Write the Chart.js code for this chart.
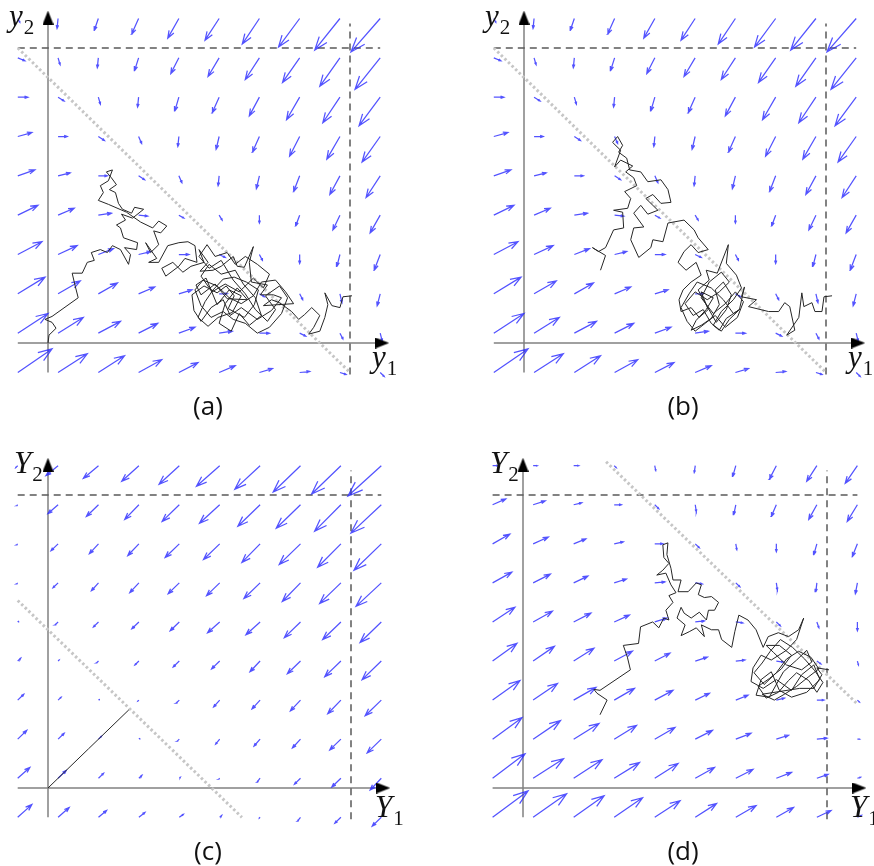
<!DOCTYPE html>
<html>
<head>
<meta charset="utf-8">
<script src="https://cdn.jsdelivr.net/npm/chart.js@4.4.0/dist/chart.umd.min.js"></script>
<style>
  body { margin: 0; background: #fff; }
  #wrap { position: relative; width: 874px; height: 866px; overflow: hidden; }
  canvas { position: absolute; }
  .axl { position: absolute; font: 31px/30px 'Liberation Serif', serif; color: #111; white-space: nowrap; }
  .axl i { font-style: italic; }
  .axl .sub { font-size: 21px; position: relative; top: 8px; margin-left: 1px; }
  .pl { position: absolute; font: 26px/26px 'Open Sans', sans-serif; color: #111; transform: translate(-50%, -50%); }
</style>
</head>
<body>
<div id="wrap">
  <canvas id="pa" width="437" height="433" style="left:0;top:0"></canvas>
  <canvas id="pb" width="437" height="433" style="left:437px;top:0"></canvas>
  <canvas id="pc" width="437" height="433" style="left:0;top:433px"></canvas>
  <canvas id="pd" width="437" height="433" style="left:437px;top:433px"></canvas>

  <div class="axl" style="left:9px;top:1px"><i>y</i><span class="sub">2</span></div>
  <div class="axl" style="left:372px;top:342px"><i>y</i><span class="sub">1</span></div>
  <div class="axl" style="left:485px;top:1px"><i>y</i><span class="sub">2</span></div>
  <div class="axl" style="left:848px;top:342px"><i>y</i><span class="sub">1</span></div>
  <div class="axl" style="left:14px;top:448px"><i>Y</i><span class="sub">2</span></div>
  <div class="axl" style="left:375px;top:792px"><i>Y</i><span class="sub">1</span></div>
  <div class="axl" style="left:490px;top:448px"><i>Y</i><span class="sub">2</span></div>
  <div class="axl" style="left:850px;top:792px"><i>Y</i><span class="sub">1</span></div>

  <div class="pl" style="left:208px;top:405px">(a)</div>
  <div class="pl" style="left:683px;top:405px">(b)</div>
  <div class="pl" style="left:208px;top:850px">(c)</div>
  <div class="pl" style="left:683px;top:850px">(d)</div>
</div>
<script>
// carrying capacity (dashed lines) and grid of the direction field
const K = 300;
const gridX = [-30, 10, 50, 90, 130, 170, 210, 250, 290, 330];
const gridY = [330, 290, 250, 210, 170, 130, 90, 50, 10, -30];

// direction field of (a) and (b): rows top -> bottom, cols left -> right
const fieldA_u = [
  [2, -1, -4, -7, -11, -14, -17, -21, -25, -29],
  [7, 2, -1, -4, -8, -11, -14, -17, -20, -25],
  [10, 6, 2, -1, -4, -7, -10, -13, -17, -21],
  [14, 9, 6, 3, -1, -3, -7, -10, -13, -18],
  [17, 12, 9, 6, 3, -1, -3, -6, -10, -14],
  [20, 16, 13, 9, 5, 3, 0, -4, -7, -10],
  [24, 19, 15, 12, 10, 6, 3, 0, -3, -6],
  [27, 22, 19, 16, 13, 8, 5, 3, 2, -3],
  [30, 25, 22, 19, 16, 13, 10, 6, 3, 2],
  [34, 29, 26, 23, 19, 16, 13, 10, 6, 4]
];
const fieldA_v = [
  [-4, -10, -12, -16, -20, -22, -26, -29, -32, -34],
  [-3, -7, -10, -13, -16, -19, -22, -25, -29, -32],
  [0, -4, -7, -10, -14, -16, -19, -23, -26, -29],
  [4, 0, -4, -7, -10, -13, -16, -20, -23, -26],
  [6, 3, 0, -4, -7, -10, -13, -16, -19, -22],
  [10, 7, 2, -1, -3, -5, -8, -11, -15, -18],
  [13, 9, 6, 3, 0, -3, -6, -9, -12, -16],
  [17, 13, 11, 7, 4, 0, -3, -6, -9, -12],
  [20, 16, 12, 10, 6, 2, 0, -3, -6, -8],
  [24, 19, 17, 13, 10, 7, 4, 1, -2, -4]
];

// direction field of (c)
const fieldC_u = [
  [-2, -12, -15, -17, -20, -23, -25, -27, -29, -33],
  [-1, -10, -12, -14, -17, -20, -22, -24, -26, -30],
  [-1, -7, -9, -11, -14, -16, -18, -21, -23, -27],
  [-1, -5, -7, -9, -11, -13, -16, -18, -21, -25],
  [1, -3, -5, -7, -9, -12, -14, -16, -18, -21],
  [3, 1, -2, -4, -6, -8, -10, -13, -16, -19],
  [6, 3, 1, -1, -3, -6, -8, -10, -13, -16],
  [9, 6, 3, 1, -2, -4, -6, -8, -11, -14],
  [12, 8, 5, 3, 1, -1, -3, -6, -9, -11],
  [14, 11, 8, 6, 4, 2, -1, -3, -6, -9]
];
const fieldC_v = [
  [-2, -10, -13, -16, -19, -21, -24, -27, -29, -31],
  [-1, -9, -12, -15, -17, -19, -22, -24, -27, -29],
  [-1, -7, -10, -12, -14, -16, -19, -21, -24, -27],
  [-1, -5, -8, -10, -11, -13, -16, -19, -21, -24],
  [1, -3, -5, -7, -9, -11, -13, -16, -18, -21],
  [3, 1, -2, -4, -6, -8, -11, -13, -16, -19],
  [6, 3, 1, -1, -3, -7, -9, -11, -14, -16],
  [9, 6, 3, 1, -2, -5, -7, -9, -11, -14],
  [11, 8, 5, 3, 1, -1, -4, -6, -9, -12],
  [13, 10, 7, 5, 3, 2, -1, -4, -6, -9]
];

// direction field of (d)
const fieldD_u = [
  [5, 4, 5, 2, 1, -1, -3, -7, -10, -12],
  [13, 12, 8, 7, 4, 1, -2, -5, -8, -10],
  [17, 15, 12, 9, 8, 4, 1, 0, -3, -5],
  [19, 17, 14, 12, 10, 7, 4, 1, -1, -2],
  [22, 19, 17, 15, 12, 9, 7, 4, 2, 0],
  [24, 21, 20, 18, 15, 12, 9, 7, 4, 1],
  [27, 24, 22, 20, 18, 14, 12, 8, 7, 2],
  [29, 27, 25, 22, 20, 17, 15, 12, 10, 2],
  [32, 30, 28, 25, 23, 19, 17, 15, 11, 3],
  [35, 33, 30, 28, 25, 21, 20, 17, 14, 4]
];
const fieldD_v = [
  [0, 0, 0, -2, -5, -7, -11, -14, -16, -18],
  [6, 4, 2, 0, -4, -7, -10, -12, -15, -17],
  [10, 7, 5, 2, 0, -4, -6, -8, -11, -13],
  [11, 9, 7, 4, 1, -1, -4, -7, -9, -11],
  [15, 11, 9, 7, 4, 1, -1, -4, -6, -9],
  [18, 15, 13, 10, 8, 4, 1, -1, -3, -4],
  [20, 17, 13, 12, 10, 7, 5, 2, 0, -2],
  [22, 19, 16, 14, 12, 9, 6, 4, 1, 0],
  [25, 20, 19, 16, 15, 11, 9, 6, 4, 1],
  [27, 24, 22, 20, 17, 14, 12, 10, 7, 2]
];

// dotted diagonal lines
const diagAB = [[-30, 300], [300, -30]];
const diagC = [[-30, 192], [192, -30]];
const diagD = [[82, 334], [330, 86]];

// sample paths
const pathA = [[0,0],[1,8],[8,15],[4,21],[-3,24],[4,27],[30,46],[27,58],[24,71],[34,71],
  [39,82],[46,84],[43,92],[52,95],[59,92],[64,99],[72,95],[80,80],[82,90],[76,97],
  [88,95],[89,102],[75,107],[72,117],[68,120],[77,125],[73,131],[84,127],[95,136],[86,138],
  [83,132],[74,136],[70,142],[67,153],[61,156],[68,161],[63,168],[58,174],[64,176],[60,165],
  [52,160],[55,153],[50,145],[60,141],[78,133],[92,123],[104,117],[110,124],[118,119],[112,112],
  [105,114],[110,100],[102,92],[97,102],[108,86],[100,82],[110,82],[119,99],[130,102],[139,103],
  [146,99],[148,82],[136,86],[130,78],[117,68],[113,76],[124,82],[134,72],[142,78],[155,82],
  [150,95],[159,82],[151,73],[164,74],[172,78],[184,88],[188,78],[195,77],[204,98],[200,82],
  [202,62],[218,59],[211,49],[224,49],[232,46],[222,33],[208,24],[192,36],[181,28],[174,44],
  [162,36],[152,22],[145,33],[143,49],[155,58],[168,51],[177,58],[185,48],[179,35],[195,26],
  [205,39],[209,54],[197,62],[185,67],[174,65],[164,54],[156,42],[149,26],[159,17],[169,26],
  [183,31],[192,48],[180,54],[168,39],[157,66],[147,59],[152,49],[166,60],[178,45],[198,44],
  [188,56],[176,40],[170,20],[182,12],[190,30],[200,18],[212,28],[206,46],[194,60],[186,74],
  [172,70],[160,80],[152,68],[163,52],[176,60],[190,52],[204,66],[214,56],[220,70],[208,80],
  [196,88],[186,80],[178,92],[166,88],[158,100],[150,88],[160,76],[172,84],[184,64],[196,50],
  [206,34],[218,22],[226,34],[216,48],[230,58],[238,46],[232,30],[220,16],[208,10],[196,20],
  [184,24],[174,32],[162,26],[152,38],[146,54],[154,64],[168,58],[180,46],[192,40],[204,48],
  [212,62],[226,64],[236,52],[244,40],
  [214,38],[222,44],[230,41],[242,32],[249,24],[255,29],[262,36],[270,28],[264,16],[259,9],
  [270,12],[275,26],[278,39],[275,51],[282,38],[290,36],[293,47],[302,48]];

const pathB = [[76,74],[81,89],[68,97],[74,93],[81,97],[89,115],[99,117],[98,133],[89,135],[103,137],
  [106,147],[100,154],[112,160],[109,168],[101,174],[108,180],[96,186],[90,179],[96,196],[88,204],
  [93,210],[98,201],[94,194],[102,188],[105,176],[116,174],[123,164],[136,166],[143,156],[146,143],
  [136,142],[128,151],[121,147],[133,135],[123,131],[116,140],[109,132],[119,118],[109,117],[106,105],
  [114,87],[126,97],[128,105],[138,103],[143,122],[159,125],[169,115],[173,107],[183,95],[173,92],
  [166,100],[159,93],[153,82],[161,74],[171,82],[176,69],[166,62],[158,54],[154,44],[156,32],
  [166,36],[174,26],[183,34],[176,52],[188,46],[181,34],[171,23],[166,13],[176,18],[186,25],
  [194,39],[190,54],[198,62],[206,49],[201,34],[191,21],[181,39],[173,54],[184,64],[181,74],
  [192,71],[203,100],[201,81],[211,69],[216,56],[208,44],[196,32],[188,18],[194,13],[201,25],
  [214,34],[204,24],[196,12],[186,20],[178,34],[168,28],[160,40],[170,52],[182,44],[194,52],
  [204,62],[196,72],[184,62],[176,46],[188,30],[200,40],[210,52],[218,42],[212,26],[200,16],
  [190,28],[180,20],[170,12],[162,22],[156,36],[164,50],[172,62],[186,56],[198,44],[208,30],
  [214,34],[219,57],[216,47],[231,44],[223,37],[243,32],[253,32],[259,41],[264,37],[269,13],
  [261,8],[273,26],[276,51],[278,37],[286,41],[289,32],[296,32],[298,47],[306,48]];

const pathC = [[0, 0], [40, 40], [80, 80]];

const pathD = [[76,75],[83,90],[73,97],[70,101],[76,100],[106,121],[103,134],[99,146],[114,148],[116,165],
  [128,170],[134,164],[139,174],[144,172],[141,182],[148,190],[144,197],[151,200],[146,208],[141,220],
  [132,218],[138,223],[144,230],[139,236],[138,249],[143,251],[142,239],[146,225],[148,213],[156,213],
  [153,201],[163,201],[171,210],[176,208],[173,198],[179,195],[186,196],[193,190],[189,182],[183,182],
  [181,172],[174,180],[166,174],[159,179],[156,185],[152,174],[160,167],[156,156],[164,160],[171,164],
  [179,155],[176,167],[186,162],[193,162],[196,152],[206,144],[209,160],[213,177],[222,172],[230,162],
  [237,144],[242,155],[252,159],[262,155],[272,162],[277,174],[270,152],[260,141],[245,131],[235,136],
  [227,123],[225,109],[237,102],[250,111],[265,100],[275,116],[287,126],[293,111],[280,98],[265,93],
  [253,100],[245,119],[235,111],[230,95],[243,93],[257,119],[270,131],[280,141],[285,129],[275,121],
  [260,126],[247,139],[240,146],[253,146],[265,136],[255,122],[243,112],[232,104],[240,92],[252,98],
  [262,110],[270,118],[282,110],[290,98],[296,108],[288,120],[278,132],[266,144],[254,152],[244,140],
  [236,128],[228,118],[238,106],[250,118],[260,132],[272,140],[284,134],[292,122],[282,114],[270,104],
  [258,96],[248,90],[236,96],[273,102],[287,102],[295,116],[290,123],[302,121]];

// panel layout: origin pixel inside its canvas and pixels per unit
const panels = [
  { id: 'pa', ox: 48, oy: 343, sx: 302 / K, sy: 295 / K, U: fieldA_u, V: fieldA_v, diag: diagAB, path: pathA },
  { id: 'pb', ox: 87, oy: 343, sx: 302 / K, sy: 295 / K, U: fieldA_u, V: fieldA_v, diag: diagAB, path: pathB },
  { id: 'pc', ox: 48, oy: 355, sx: 303 / K, sy: 293 / K, U: fieldC_u, V: fieldC_v, diag: diagC, path: pathC },
  { id: 'pd', ox: 86, oy: 355, sx: 304 / K, sy: 293 / K, U: fieldD_u, V: fieldD_v, diag: diagD, path: pathD }
];

const GAP = { x: NaN, y: NaN };

function quiverData(U, V) {
  const pts = [];
  const a = 0.33, b = 0.36;
  gridY.forEach(function(y, j) {
    gridX.forEach(function(x, i) {
      const dx = U[j][i], dy = V[j][i];
      const tx = x + dx, ty = y + dy;
      pts.push({ x: x, y: y }, { x: tx, y: ty }, GAP,
        { x: tx - a * (dx + b * dy), y: ty - a * (dy - b * dx) },
        { x: tx, y: ty },
        { x: tx - a * (dx - b * dy), y: ty - a * (dy + b * dx) }, GAP);
    });
  });
  return pts;
}

function toPts(arr) {
  return arr.map(function(p) { return { x: p[0], y: p[1] }; });
}

// filled black triangle for the axis ends
function headImage() {
  const c = document.createElement('canvas');
  c.width = 11; c.height = 14;
  const g = c.getContext('2d');
  g.fillStyle = '#000';
  g.beginPath();
  g.moveTo(5.5, 0); g.lineTo(11, 14); g.lineTo(0, 14);
  g.closePath(); g.fill();
  return c;
}
const head = headImage();

function line(data, color, width, dash, order) {
  return { data: data, showLine: true, borderColor: color, borderWidth: width,
    borderDash: dash || [], pointRadius: 0, order: order, spanGaps: false };
}

panels.forEach(function(p) {
  const canvas = document.getElementById(p.id);
  const W = canvas.width, H = canvas.height;
  const datasets = [
    line(toPts(p.path), '#262626', 1, null, 1),
    line(toPts(p.diag), '#c6c6c6', 3, [2.5, 2.5], 2),
    line(quiverData(p.U, p.V), 'rgba(40,40,255,0.8)', 1.25, null, 3),
    line([{ x: -30, y: K }, { x: 330, y: K }], '#5a5a5a', 1.5, [7, 5], 4),
    line([{ x: K, y: -32 }, { x: K, y: 325 }], '#5a5a5a', 1.5, [7, 5], 4),
    line([{ x: -30, y: 0 }, { x: 333, y: 0 }], '#808080', 1.5, null, 5),
    line([{ x: 0, y: -30 }, { x: 0, y: 332 }], '#808080', 1.5, null, 5),
    { data: [{ x: 332, y: 0 }], pointStyle: head, pointRadius: 6, rotation: 90, order: 0 },
    { data: [{ x: 0, y: 331 }], pointStyle: head, pointRadius: 6, rotation: 0, order: 0 }
  ];
  new Chart(canvas.getContext('2d'), {
    type: 'scatter',
    data: { datasets: datasets },
    options: {
      responsive: false,
      animation: false,
      events: [],
      layout: { padding: 0, autoPadding: false },
      plugins: { legend: { display: false }, tooltip: { enabled: false } },
      elements: { line: { tension: 0 } },
      scales: {
        x: { type: 'linear', display: false, min: -p.ox / p.sx, max: (W - p.ox) / p.sx },
        y: { type: 'linear', display: false, min: -(H - p.oy) / p.sy, max: p.oy / p.sy }
      }
    }
  });
});
</script>
</body>
</html>
